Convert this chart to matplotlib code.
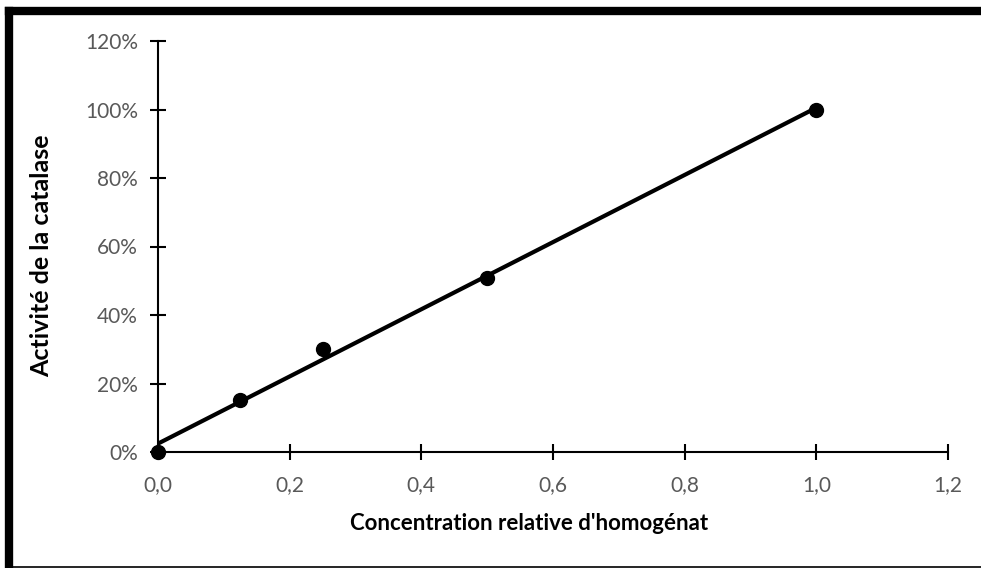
import numpy as np
import matplotlib
matplotlib.use("Agg")
import matplotlib.pyplot as plt
from matplotlib.lines import Line2D
from matplotlib.ticker import FuncFormatter, MultipleLocator

plt.rcParams['font.family'] = ['Lato', 'DejaVu Sans']

# Relative homogenate concentration vs. catalase activity (%)
concentration = [0.0, 0.125, 0.25, 0.5, 1.0]
activity = [0.0, 15.2, 30.1, 50.8, 100.0]

x_label = "Concentration relative d'homogénat"
y_label = "Activité de la catalase"

W, H = 981, 568
fig = plt.figure(figsize=(W / 100, H / 100), dpi=100)
ax = fig.add_axes([158 / W, 1 - 452 / H, (948 - 158) / W, (452 - 41) / H])

# Linear trendline fitted on the measurements
slope, intercept = np.polyfit(concentration, activity, 1)
xt = np.array([0.0, 1.0])
ax.plot(xt, slope * xt + intercept, color='black', lw=3, solid_capstyle='butt', zorder=2)

ax.plot(concentration, activity, 'o', color='black', markersize=10, clip_on=False, zorder=3)

ax.set_xlim(0, 1.2)
ax.set_ylim(0, 120)
ax.xaxis.set_major_locator(MultipleLocator(0.2))
ax.yaxis.set_major_locator(MultipleLocator(20))
ax.xaxis.set_major_formatter(FuncFormatter(lambda v, p: f"{v:.1f}".replace('.', ',')))
ax.yaxis.set_major_formatter(FuncFormatter(lambda v, p: f"{v:.0f}%"))

for s in ['top', 'right']:
    ax.spines[s].set_visible(False)
for s in ['left', 'bottom']:
    ax.spines[s].set_linewidth(1.5)
    ax.spines[s].set_color('black')

ax.tick_params(axis='both', direction='inout', length=11, width=1.5, color='black',
               labelsize=15, labelcolor='#595959')
ax.tick_params(axis='y', pad=9)
ax.tick_params(axis='x', pad=11)

ax.set_xlabel(x_label, fontsize=16, fontweight='bold')
ax.set_ylabel(y_label, fontsize=18, fontweight='bold')
ax.xaxis.set_label_coords(0.47, -0.148)
ax.yaxis.set_label_coords(-0.133, 0.477)

# Chart frame
def px_line(x0, y0, x1, y1, lw):
    fig.add_artist(Line2D([x0 / W, x1 / W], [1 - y0 / H, 1 - y1 / H],
                          transform=fig.transFigure, color='black', lw=lw,
                          solid_capstyle='projecting'))

px_line(9, 11, W + 10, 11, 6)
px_line(9, 11, 9, 566, 6)
px_line(9, 566.5, W + 10, 566.5, 1.2)

fig.savefig('out.png', dpi=100)
